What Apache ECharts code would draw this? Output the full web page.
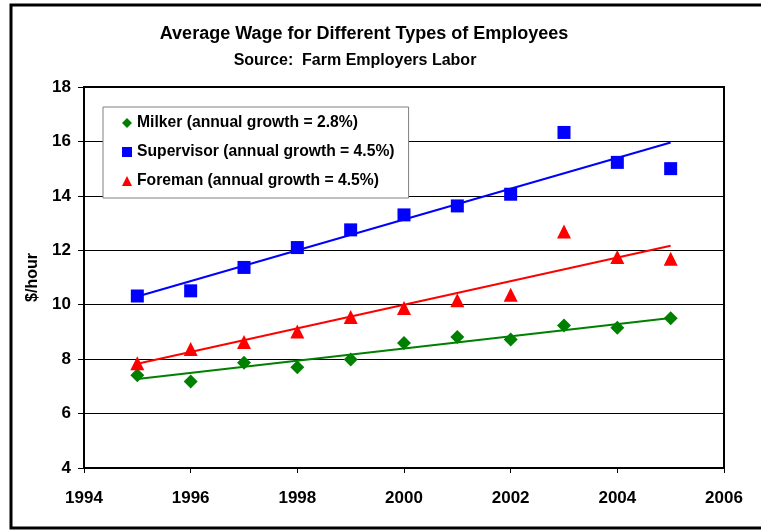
<!DOCTYPE html>
<html>
<head>
<meta charset="utf-8">
<script src="https://cdn.jsdelivr.net/npm/echarts@6/dist/echarts.min.js"></script>
<style>
html,body{margin:0;padding:0;background:#fff;}
#chart{width:761px;height:531px;}
</style>
</head>
<body>
<div id="chart"></div>
<script>
// Data
const years = [1995, 1996, 1997, 1998, 1999, 2000, 2001, 2002, 2003, 2004, 2005];
const milker = [7.41, 7.18, 7.87, 7.70, 7.99, 8.59, 8.81, 8.72, 9.24, 9.15, 9.50];
const supervisor = [10.32, 10.51, 11.37, 12.10, 12.75, 13.30, 13.63, 14.06, 16.33, 15.23, 15.00];
const foreman = [7.85, 8.37, 8.63, 9.02, 9.55, 9.88, 10.16, 10.37, 12.69, 11.75, 11.69];
// Trendline endpoints
const trendYears = [1995, 2005];
const milkerTrend = [7.27, 9.51];
const supervisorTrend = [10.30, 15.96];
const foremanTrend = [7.83, 12.17];
const seriesNames = [
  'Milker (annual growth = 2.8%)',
  'Supervisor (annual growth = 4.5%)',
  'Foreman (annual growth = 4.5%)'
];
const titleText = 'Average Wage for Different Types of Employees';
const subtitleText = 'Source:  Farm Employers Labor';
const yAxisTitle = '$/hour';

const pair = (xs, ys) => xs.map((x, i) => [x, ys[i]]);
const FONT = 'Liberation Sans, Arial, sans-serif';

const chart = echarts.init(document.getElementById('chart'), null, {renderer: 'canvas'});
chart.setOption({
  animation: false,
  backgroundColor: '#fff',
  graphic: [
    {type: 'rect', shape: {x: 11, y: 5, width: 780, height: 523}, style: {fill: 'none', stroke: '#000', lineWidth: 3}, z: 100},
    {type: 'text', style: {x: 364, y: 34, text: titleText, textAlign: 'center', textVerticalAlign: 'middle', font: 'bold 18px ' + FONT, fill: '#000'}},
    {type: 'text', style: {x: 355, y: 61, text: subtitleText, textAlign: 'center', textVerticalAlign: 'middle', font: 'bold 16px ' + FONT, fill: '#000'}}
  ],
  grid: {left: 84, right: 37, top: 87, bottom: 63, show: true, borderColor: '#000', borderWidth: 2, backgroundColor: 'transparent'},
  legend: {
    orient: 'vertical', left: 103, top: 107,
    data: [
      {name: seriesNames[0], icon: 'diamond'},
      {name: seriesNames[1], icon: 'rect'},
      {name: seriesNames[2], icon: 'triangle'}
    ],
    backgroundColor: '#fff', borderColor: '#808080', borderWidth: 1,
    padding: [8, 14, 9, 19], itemGap: 13, itemWidth: 10, itemHeight: 10,
    textStyle: {fontFamily: FONT, fontWeight: 'bold', fontSize: 15.7, color: '#000', lineHeight: 16}
  },
  xAxis: {
    type: 'value', min: 1994, max: 2006, interval: 2,
    axisLine: {show: true, lineStyle: {color: '#000', width: 2}},
    axisTick: {show: true, length: 5, lineStyle: {color: '#000', width: 1}},
    axisLabel: {formatter: v => String(v), margin: 22, fontFamily: FONT, fontWeight: 'bold', fontSize: 17, color: '#000'},
    splitLine: {show: false}
  },
  yAxis: {
    type: 'value', min: 4, max: 18, interval: 2,
    name: yAxisTitle, nameLocation: 'middle', nameRotate: 90, nameGap: 43,
    nameTextStyle: {fontFamily: FONT, fontWeight: 'bold', fontSize: 16, color: '#000'},
    axisLine: {show: true, lineStyle: {color: '#000', width: 2}},
    axisTick: {show: true, length: 6, lineStyle: {color: '#000', width: 1}},
    axisLabel: {margin: 13, fontFamily: FONT, fontWeight: 'bold', fontSize: 17, color: '#000'},
    splitLine: {show: true, lineStyle: {color: '#000', width: 1}}
  },
  series: [
    {name: 'mt', type: 'line', data: pair(trendYears, milkerTrend), symbol: 'none', lineStyle: {color: '#008000', width: 2}, silent: true, z: 2},
    {name: 'st', type: 'line', data: pair(trendYears, supervisorTrend), symbol: 'none', lineStyle: {color: '#0000FF', width: 2}, silent: true, z: 2},
    {name: 'ft', type: 'line', data: pair(trendYears, foremanTrend), symbol: 'none', lineStyle: {color: '#FF0000', width: 2}, silent: true, z: 2},
    {name: seriesNames[0], type: 'scatter', data: pair(years, milker), symbol: 'diamond', symbolSize: 14, itemStyle: {color: '#008000', opacity: 1}, z: 3},
    {name: seriesNames[1], type: 'scatter', data: pair(years, supervisor), symbol: 'rect', symbolSize: 13, itemStyle: {color: '#0000FF', opacity: 1}, z: 3},
    {name: seriesNames[2], type: 'scatter', data: pair(years, foreman), symbol: 'triangle', symbolSize: 14, itemStyle: {color: '#FF0000', opacity: 1}, z: 3}
  ]
});
</script>
</body>
</html>
